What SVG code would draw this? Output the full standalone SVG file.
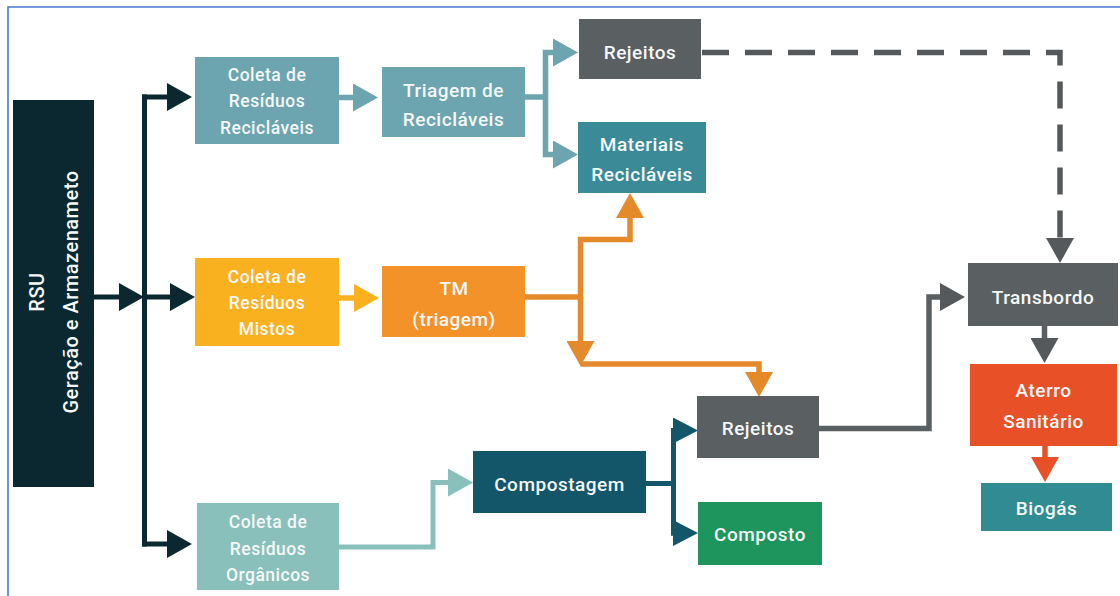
<svg xmlns="http://www.w3.org/2000/svg" width="1120" height="596" viewBox="0 0 1120 596">
  <defs>
    <style>
      .lbl { font-family: Roboto, "Liberation Sans", sans-serif; font-weight: 500; fill: #f5f8f8; text-anchor: middle; letter-spacing: 0.5px; }
      .sm { font-size: 17.5px; }
      .md { font-size: 19px; }
      .ln { fill: none; stroke-linejoin: miter; stroke-linecap: butt; }
      .dark { stroke: #0b2830; stroke-width: 5; }
      .teal { stroke: #6ca5b0; stroke-width: 5.5; }
      .yel { stroke: #f9b11f; stroke-width: 5.5; }
      .org { stroke: #e58a2a; stroke-width: 5.5; }
      .orgn { stroke: #89c0bb; stroke-width: 5; }
      .comp { stroke: #13566a; stroke-width: 5; }
      .gray { stroke: #5a5f62; stroke-width: 5.5; }
      .dash { stroke: #55595b; stroke-width: 5.5; stroke-dasharray: 27 16; }
      .red { stroke: #e85128; stroke-width: 5.5; }
    </style>
    <marker id="ah-dark" markerUnits="userSpaceOnUse" markerWidth="25" markerHeight="28" viewBox="0 0 25 28" refX="0" refY="14" orient="auto"><path d="M0,0 L25,14 L0,28 Z" fill="#0b2830"/></marker>
    <marker id="ah-teal" markerUnits="userSpaceOnUse" markerWidth="25" markerHeight="28" viewBox="0 0 25 28" refX="0" refY="14" orient="auto"><path d="M0,0 L25,14 L0,28 Z" fill="#6ca5b0"/></marker>
    <marker id="ah-yel" markerUnits="userSpaceOnUse" markerWidth="25" markerHeight="28" viewBox="0 0 25 28" refX="0" refY="14" orient="auto"><path d="M0,0 L25,14 L0,28 Z" fill="#f9b11f"/></marker>
    <marker id="ah-org" markerUnits="userSpaceOnUse" markerWidth="25" markerHeight="28" viewBox="0 0 25 28" refX="0" refY="14" orient="auto"><path d="M0,0 L25,14 L0,28 Z" fill="#e58a2a"/></marker>
    <marker id="ah-orgn" markerUnits="userSpaceOnUse" markerWidth="25" markerHeight="28" viewBox="0 0 25 28" refX="0" refY="14" orient="auto"><path d="M0,0 L25,14 L0,28 Z" fill="#89c0bb"/></marker>
    <marker id="ah-comp" markerUnits="userSpaceOnUse" markerWidth="25" markerHeight="26" viewBox="0 0 25 26" refX="0" refY="13" orient="auto"><path d="M0,0 L25,13 L0,26 Z" fill="#13566a"/></marker>
    <marker id="ah-gray" markerUnits="userSpaceOnUse" markerWidth="25" markerHeight="28" viewBox="0 0 25 28" refX="0" refY="14" orient="auto"><path d="M0,0 L25,14 L0,28 Z" fill="#55595b"/></marker>
    <marker id="ah-red" markerUnits="userSpaceOnUse" markerWidth="25" markerHeight="28" viewBox="0 0 25 28" refX="0" refY="14" orient="auto"><path d="M0,0 L25,14 L0,28 Z" fill="#e85128"/></marker>
  </defs>

  <rect width="1120" height="596" fill="#ffffff"/>
  <!-- frame -->
  <path d="M8,596 V7 H1120" fill="none" stroke="#4a78cf" stroke-width="1.6"/>

  <!-- connectors -->
  <g id="connectors">
    <path class="ln dark" d="M94,297 H119" marker-end="url(#ah-dark)"/>
    <path class="ln dark" d="M144.5,94.5 V546.5"/>
    <path class="ln dark" d="M142,97 H167" marker-end="url(#ah-dark)"/>
    <path class="ln dark" d="M147,297 H170" marker-end="url(#ah-dark)"/>
    <path class="ln dark" d="M142,544 H167" marker-end="url(#ah-dark)"/>

    <path class="ln teal" d="M339,97.5 H353" marker-end="url(#ah-teal)"/>
    <path class="ln teal" d="M525,97 H545.5"/>
    <path class="ln teal" d="M545.5,97 V52.5 H553" marker-end="url(#ah-teal)"/>
    <path class="ln teal" d="M545.5,97 V154.5 H553" marker-end="url(#ah-teal)"/>

    <path class="ln dash" d="M702,52.5 H1060 V238" marker-end="url(#ah-gray)"/>

    <path class="ln yel" d="M339,298 H354" marker-end="url(#ah-yel)"/>

    <path class="ln org" d="M525,297 H580.5 V239.5 H630 V218" marker-end="url(#ah-org)"/>
    <path class="ln org" d="M580.5,297 V341" marker-end="url(#ah-org)"/>
    <path class="ln org" d="M580.5,364 H759 V372" marker-end="url(#ah-org)"/>

    <path class="ln orgn" d="M339,547 H433 V482.5 H448" marker-end="url(#ah-orgn)"/>

    <path class="ln comp" d="M646,483.5 H673.5"/>
    <path class="ln comp" d="M673.5,428 V535.5"/>
    <path class="ln comp" d="M671,430.5 H673" marker-end="url(#ah-comp)"/>
    <path class="ln comp" d="M671,533 H673" marker-end="url(#ah-comp)"/>

    <path class="ln gray" d="M819,428.5 H929 V297 H940" marker-end="url(#ah-gray)"/>
    <path class="ln gray" d="M1044.5,326 V338" marker-end="url(#ah-gray)"/>
    <path class="ln red" d="M1045,446 V457" marker-end="url(#ah-red)"/>
  </g>

  <!-- nodes -->
  <g id="rsu">
    <rect x="13" y="100" width="81" height="387" fill="#0b2830"/>
    <text class="lbl" font-size="20" transform="translate(44,292) rotate(-90)">RSU</text>
    <text class="lbl" font-size="20" letter-spacing="1.1" transform="translate(78,292) rotate(-90)">Geração e Armazenameto</text>
  </g>

  <g id="coleta-reciclaveis">
    <rect x="195" y="57" width="144" height="87" fill="#6ca5b0"/>
    <text class="lbl sm" x="267" y="81">Coleta de</text>
    <text class="lbl sm" x="267" y="107">Resíduos</text>
    <text class="lbl sm" x="267" y="134">Recicláveis</text>
  </g>

  <g id="triagem-reciclaveis">
    <rect x="382" y="67" width="143" height="70" fill="#6ca5b0"/>
    <text class="lbl md" x="453.5" y="97">Triagem de</text>
    <text class="lbl md" x="453.5" y="126">Recicláveis</text>
  </g>

  <g id="rejeitos-triagem">
    <rect x="579" y="19" width="122" height="60" fill="#5a5f62"/>
    <text class="lbl md" x="640" y="59">Rejeitos</text>
  </g>

  <g id="materiais-reciclaveis">
    <rect x="578" y="122" width="128" height="71" fill="#3a8a98"/>
    <text class="lbl md" x="642" y="151">Materiais</text>
    <text class="lbl md" x="642" y="181">Recicláveis</text>
  </g>

  <g id="coleta-mistos">
    <rect x="195" y="258" width="144" height="88" fill="#f9b11f"/>
    <text class="lbl sm" x="267" y="283">Coleta de</text>
    <text class="lbl sm" x="267" y="309">Resíduos</text>
    <text class="lbl sm" x="267" y="335">Mistos</text>
  </g>

  <g id="tm">
    <rect x="382" y="266" width="143" height="71" fill="#f29229"/>
    <text class="lbl md" x="454" y="295">TM</text>
    <text class="lbl md" x="454" y="326">(triagem)</text>
  </g>

  <g id="rejeitos-tm">
    <rect x="697" y="396" width="122" height="62" fill="#5a5f62"/>
    <text class="lbl md" x="758" y="435">Rejeitos</text>
  </g>

  <g id="compostagem">
    <rect x="473" y="451" width="173" height="62" fill="#13566a"/>
    <text class="lbl md" x="559.5" y="491">Compostagem</text>
  </g>

  <g id="composto">
    <rect x="698" y="502" width="124" height="63" fill="#1e955c"/>
    <text class="lbl md" x="760" y="541">Composto</text>
  </g>

  <g id="coleta-organicos">
    <rect x="197" y="503" width="142" height="87" fill="#89c0bb"/>
    <text class="lbl sm" x="268" y="528">Coleta de</text>
    <text class="lbl sm" x="268" y="555">Resíduos</text>
    <text class="lbl sm" x="268" y="581">Orgânicos</text>
  </g>

  <g id="transbordo">
    <rect x="968" y="263" width="150" height="63" fill="#5a5f62"/>
    <text class="lbl md" x="1043" y="304">Transbordo</text>
  </g>

  <g id="aterro">
    <rect x="970" y="364" width="147" height="82" fill="#e85128"/>
    <text class="lbl md" x="1043.5" y="397">Aterro</text>
    <text class="lbl md" x="1043.5" y="428">Sanitário</text>
  </g>

  <g id="biogas">
    <rect x="981" y="483" width="131" height="48" fill="#318b93"/>
    <text class="lbl md" x="1046.5" y="515">Biogás</text>
  </g>
</svg>
